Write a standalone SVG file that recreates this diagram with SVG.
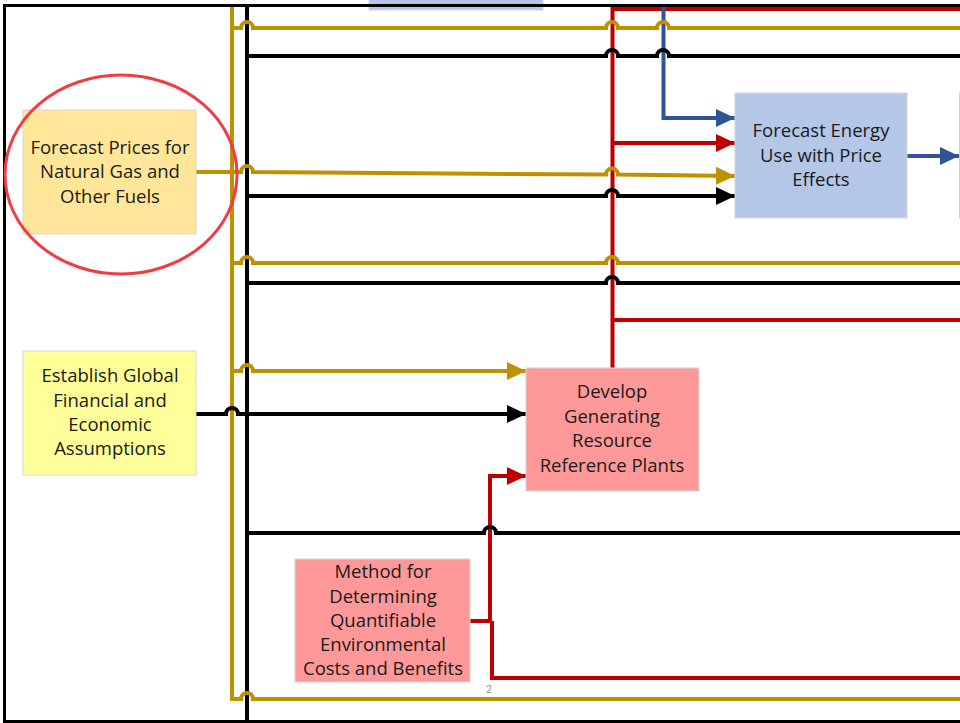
<svg xmlns="http://www.w3.org/2000/svg" width="960" height="723" viewBox="0 0 960 723">
<style>
  .ln{fill:none;stroke-width:4;stroke-linejoin:miter}
  .gold{stroke:#bf9000}
  .blk{stroke:#000}
  .red{stroke:#c00000}
  .blue{stroke:#2f5597}
  .box{stroke:#d6d6d6;stroke-width:1}
  .t{font-family:"Open Sans",Lato,"Liberation Sans",sans-serif;font-size:18.5px;fill:#1a1a1a;text-anchor:middle}
</style>
<defs>
  <marker id="ag" markerUnits="userSpaceOnUse" markerWidth="19" markerHeight="18" refX="19" refY="9" orient="auto"><path d="M0,0 L19,9 L0,18 z" fill="#bf9000"/></marker>
  <marker id="ak" markerUnits="userSpaceOnUse" markerWidth="19" markerHeight="18" refX="19" refY="9" orient="auto"><path d="M0,0 L19,9 L0,18 z" fill="#000"/></marker>
  <marker id="ar" markerUnits="userSpaceOnUse" markerWidth="19" markerHeight="18" refX="19" refY="9" orient="auto"><path d="M0,0 L19,9 L0,18 z" fill="#c00000"/></marker>
  <marker id="ab" markerUnits="userSpaceOnUse" markerWidth="19" markerHeight="18" refX="19" refY="9" orient="auto"><path d="M0,0 L19,9 L0,18 z" fill="#2f5597"/></marker>
</defs>
<rect width="960" height="723" fill="#fff"/>
<g id="top-box"><rect class="box" x="369" y="-10" width="174" height="20" fill="#b4c7e7"/></g>
<g id="next-box"><rect x="959.5" y="93" width="20" height="125" fill="#b4c7e7" stroke="#d0d0d0" stroke-width="1"/></g>

<g id="connectors">
  <path class="ln red" d="M960,9 H612.5 V368"/>
  <path class="ln red" d="M612.5,143 H735" marker-end="url(#ar)"/>
  <path class="ln red" d="M612.5,320 H960"/>
  <path class="ln blue" d="M663.5,6 V118 H735" marker-end="url(#ab)"/>
  <path class="ln blue" d="M907,156 H959" marker-end="url(#ab)"/>
  <path class="ln red" d="M470,621 H490 V476 H526" marker-end="url(#ar)"/>
  <path class="ln red" d="M492,621 V678 H960"/>
  <path class="ln blk" d="M247,6 V722"/>
  <path class="ln gold" d="M232,6 V699 H241 a6,6 0 0 1 12,0 H960"/>
  <path class="ln gold" d="M232,28 H241 a6,6 0 0 1 12,0 H606 a6,6 0 0 1 12,0 H657 a6,6 0 0 1 12,0 H960"/>
  <path class="ln gold" d="M196,172 H241 a6,6 0 0 1 12,0 L606,174.6 a6,6 0 0 1 12,0 L735,176" marker-end="url(#ag)"/>
  <path class="ln gold" d="M232,263 H241 a6,6 0 0 1 12,0 H606 a6,6 0 0 1 12,0 H960"/>
  <path class="ln gold" d="M232,371 H241 a6,6 0 0 1 12,0 H526" marker-end="url(#ag)"/>
  <path class="ln blk" d="M247,56 H606 a6,6 0 0 1 12,0 H657 a6,6 0 0 1 12,0 H960"/>
  <path class="ln blk" d="M247,196 H606 a6,6 0 0 1 12,0 H735" marker-end="url(#ak)"/>
  <path class="ln blk" d="M247,283 H606 a6,6 0 0 1 12,0 H960"/>
  <path class="ln blk" d="M191,414 H226 a6,6 0 0 1 12,0 H526" marker-end="url(#ak)"/>
  <path class="ln blk" d="M247,533 H484 a6,6 0 0 1 12,0 H960"/>
</g>

<g id="frame"><path d="M960,5.5 H4.5 V721.5 H960" fill="none" stroke="#000" stroke-width="3"/></g>

<g id="forecast-prices">
  <rect class="box" x="23" y="110" width="173" height="124" fill="#ffe699"/>
  <text class="t" x="110" y="154">Forecast Prices for</text>
  <text class="t" x="110" y="178">Natural Gas and</text>
  <text class="t" x="110" y="203">Other Fuels</text>
</g>
<g id="highlight"><ellipse cx="121" cy="174.5" rx="116" ry="99.5" fill="none" stroke="#ee3e44" stroke-width="3"/></g>

<g id="establish">
  <rect class="box" x="23" y="351" width="173" height="124" fill="#ffff99"/>
  <text class="t" x="110" y="382">Establish Global</text>
  <text class="t" x="110" y="407">Financial and</text>
  <text class="t" x="110" y="431">Economic</text>
  <text class="t" x="110" y="455">Assumptions</text>
</g>

<g id="forecast-energy">
  <rect class="box" x="735" y="93" width="172" height="125" fill="#b4c7e7"/>
  <text class="t" x="821" y="137">Forecast Energy</text>
  <text class="t" x="821" y="162">Use with Price</text>
  <text class="t" x="821" y="186">Effects</text>
</g>

<g id="develop">
  <rect class="box" x="526" y="368" width="173" height="123" fill="#ff9999"/>
  <text class="t" x="612" y="398">Develop</text>
  <text class="t" x="612" y="423">Generating</text>
  <text class="t" x="612" y="447">Resource</text>
  <text class="t" x="612" y="472">Reference Plants</text>
</g>

<g id="method">
  <rect class="box" x="295" y="559" width="175" height="123" fill="#ff9999"/>
  <text class="t" x="383" y="578">Method for</text>
  <text class="t" x="383" y="603">Determining</text>
  <text class="t" x="383" y="627">Quantifiable</text>
  <text class="t" x="383" y="651">Environmental</text>
  <text class="t" x="383" y="675">Costs and Benefits</text>
</g>

<g id="page-number"><text x="489" y="693" font-family="'Liberation Sans',sans-serif" font-size="10" fill="#8c8c8c" text-anchor="middle">2</text></g>
</svg>
